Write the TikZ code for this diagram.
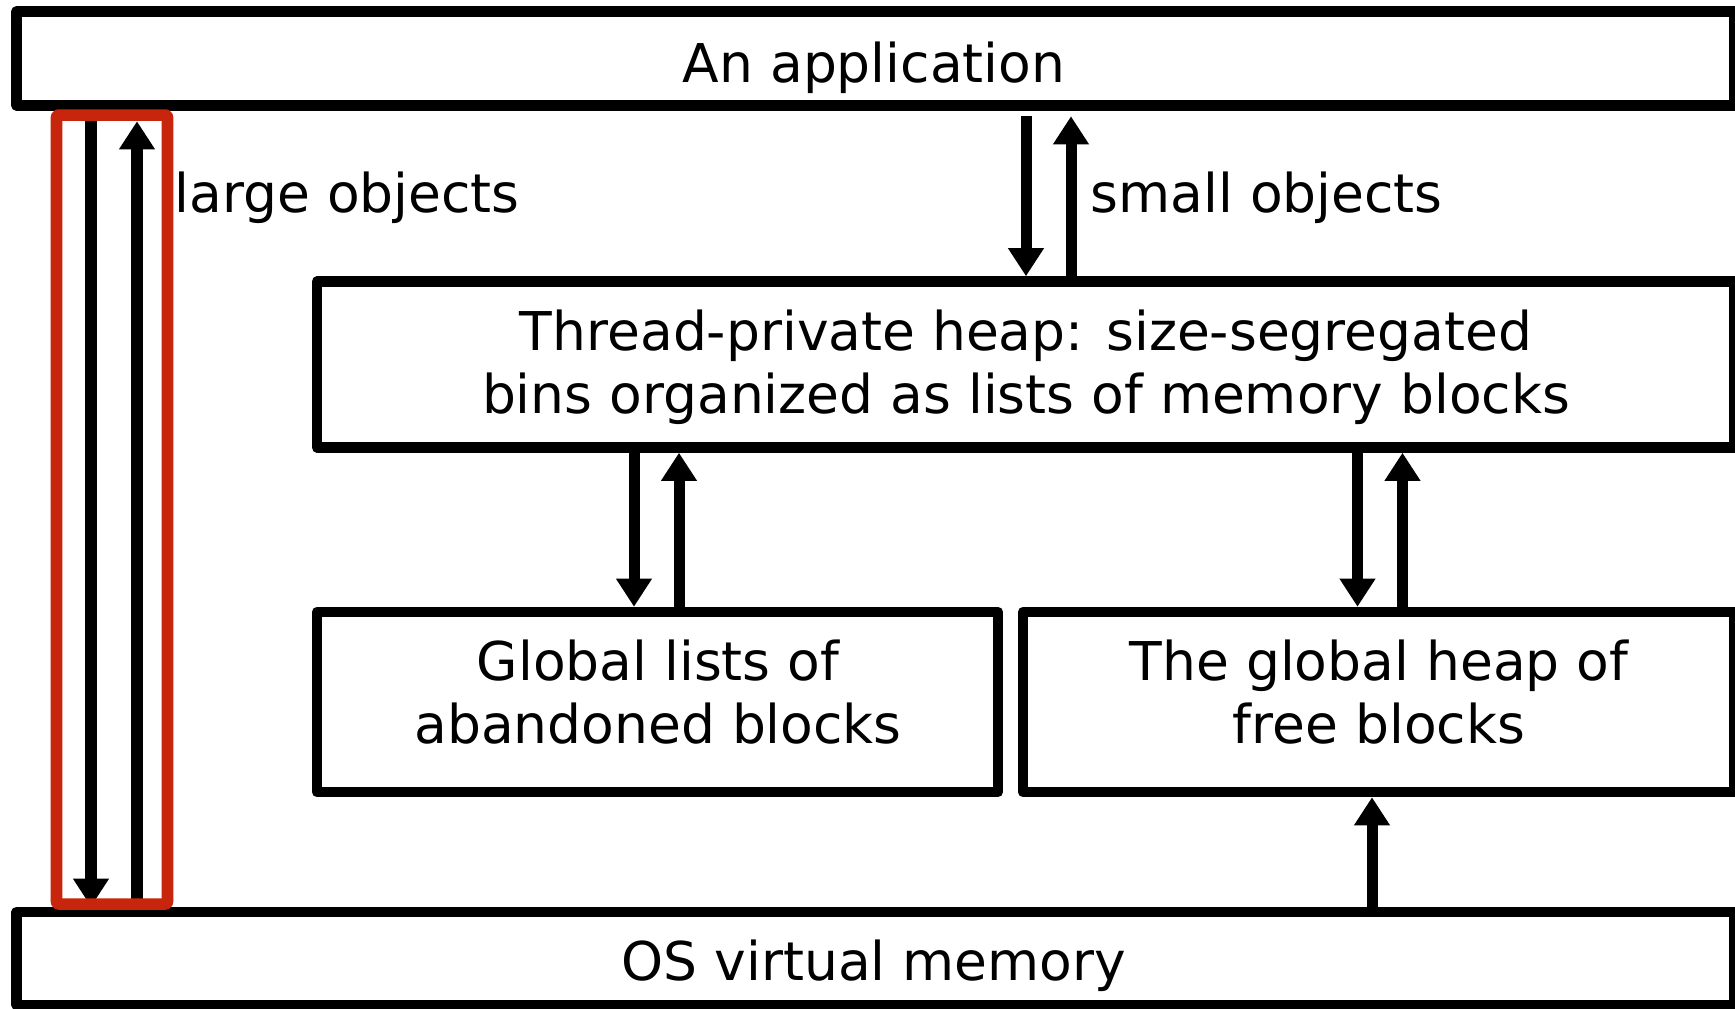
\documentclass[tikz,border=0pt]{standalone}
\usepackage{fontspec}
\setmainfont{DejaVu Sans}
\usetikzlibrary{arrows.meta,fit}
\definecolor{frame}{RGB}{200,38,12}
\begin{document}
\begin{tikzpicture}[x=0.01cm,y=-0.01cm,
  box/.style={draw=black, line width=0.105cm, line join=round, inner sep=0pt},
  redframe/.style={draw=frame, line width=0.115cm, line join=round, rounded corners=0.02cm, inner sep=0pt},
  flow/.style={line width=0.11cm, -{Triangle[length=0.28cm,width=0.34cm]}},
  txt/.style={font=\fontsize{15.2}{17.8}\selectfont, inner sep=0pt, align=center}]
\useasboundingbox (0,0) rectangle (1735,1008);

% boxes
\node[box, fit={(16.5,11.5) (1734.5,105.5)}] (app) {};
\node[box, fit={(317,281.5) (1734.5,447.5)}] (heap) {};
\node[box, fit={(317,612) (998,792)}] (glob) {};
\node[box, fit={(1023,612) (1734.5,792)}] (free) {};
\node[box, fit={(16.5,912) (1734.5,1005)}] (os) {};

% x positions of the connectors
\coordinate (xl1) at (91,0);
\coordinate (xl2) at (137,0);
\coordinate (xs1) at (1026,0);
\coordinate (xs2) at (1071,0);
\coordinate (xa1) at (634,0);
\coordinate (xa2) at (679,0);
\coordinate (xf1) at (1357.5,0);
\coordinate (xf2) at (1402.5,0);
\coordinate (xo) at (1372,0);

% large objects: straight between the application and the OS
\draw[flow] (app.south -| xl1) -- (os.north -| xl1);
\draw[flow, shorten >=0.105cm] (os.north -| xl2) -- (app.south -| xl2);
\node[redframe, fit={(56.5,115) (167.5,904)}] (hl) {};

% small objects: through the thread-private heap
\draw[flow, shorten <=0.055cm] (app.south -| xs1) -- (heap.north -| xs1);
\draw[flow, shorten >=0.055cm] (heap.north -| xs2) -- (app.south -| xs2);

\draw[flow] (heap.south -| xa1) -- (glob.north -| xa1);
\draw[flow] (glob.north -| xa2) -- (heap.south -| xa2);
\draw[flow] (heap.south -| xf1) -- (free.north -| xf1);
\draw[flow] (free.north -| xf2) -- (heap.south -| xf2);
\draw[flow] (os.north -| xo) -- (free.south -| xo);

% labels (multi-line labels are anchored on their last line)
\node[txt, anchor=base] (tapp) at (874,82) {An application};
\node[txt, anchor=base west] (tlarge) at (174,212) {large objects};
\node[txt, anchor=base west] (tsmall) at (1090,212) {small objects};
\node[txt, anchor=base] (theap) at (1026,413) {Thread-private heap: size-segregated\\bins organized as lists of memory blocks};
\node[txt, anchor=base] (tglob) at (658,743) {Global lists of\\abandoned blocks};
\node[txt, anchor=base] (tfree) at (1379,743) {The global heap of\\free blocks};
\node[txt, anchor=base] (tos) at (874,980) {OS virtual memory};
\end{tikzpicture}
\end{document}
